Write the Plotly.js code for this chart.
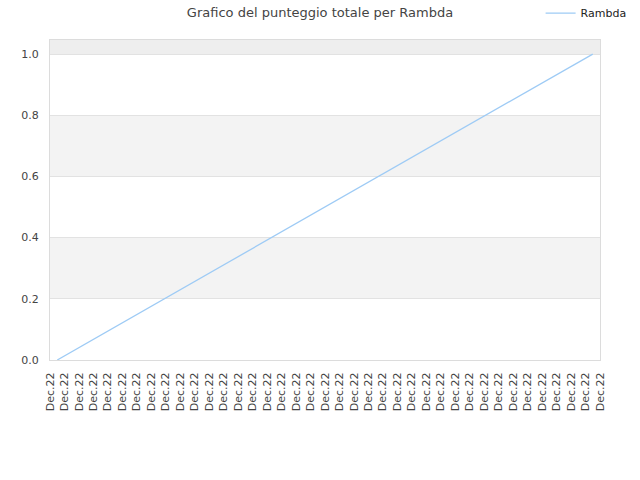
<!DOCTYPE html>
<html>
<head>
<meta charset="utf-8">
<script src="https://cdn.plot.ly/plotly-3.0.1.min.js"></script>
<style>
  html, body { margin: 0; padding: 0; background: #fff; }
  #chart { width: 640px; height: 480px; }
</style>
</head>
<body>
<div id="chart"></div>
<script>
// tick labels along the bottom, one per position
const tickLabels = Array(39).fill("Dec.22");
const tickPositions = tickLabels.map((_, i) => i);

// series: starts at 0, ends at 1
const seriesName = "Rambda";
const seriesX = [0.5, 37.5];
const seriesY = [0, 1];

const yTicks = [0, 0.2, 0.4, 0.6, 0.8, 1.0];

// alternating background bands between the y grid lines
const bands = [
  { from: 0.2, to: 0.4, color: "#f3f3f3" },
  { from: 0.6, to: 0.8, color: "#f3f3f3" },
  { from: 1.0, to: 1.046, color: "#eeeeee" },
];

const font = "DejaVu Sans, sans-serif";

const data = [
  {
    type: "scatter",
    mode: "lines",
    name: seriesName,
    x: seriesX,
    y: seriesY,
    line: { color: "#9ecbf5", width: 1.3 },
    showlegend: true,
  },
];

const layout = {
  width: 640,
  height: 480,
  margin: { l: 50, r: 40, t: 40, b: 120, autoexpand: false },
  paper_bgcolor: "#ffffff",
  plot_bgcolor: "#ffffff",
  font: { family: font, size: 11, color: "#444" },
  title: {
    text: "Grafico del punteggio totale per Rambda",
    font: { family: font, size: 13, color: "#444" },
    x: 0.5,
    xanchor: "center",
    y: 0.975,
    yanchor: "middle",
  },
  showlegend: true,
  legend: {
    x: 0.892,
    xanchor: "left",
    y: 1.084,
    yanchor: "middle",
    bgcolor: "rgba(0,0,0,0)",
    font: { family: font, size: 11, color: "#222" },
    itemwidth: 30,
  },
  xaxis: {
    type: "linear",
    range: [0, 38],
    tickvals: tickPositions,
    ticktext: tickLabels,
    tickangle: -90,
    ticks: "outside",
    ticklen: 7,
    tickcolor: "rgba(0,0,0,0)",
    showgrid: false,
    zeroline: false,
    showline: true,
    mirror: true,
    linecolor: "#dcdcdc",
    linewidth: 1,
    tickfont: { family: font, size: 11, color: "#444" },
    fixedrange: true,
  },
  yaxis: {
    range: [0, 1.046],
    tickvals: yTicks,
    tickformat: ".1f",
    ticks: "outside",
    ticklen: 8,
    tickcolor: "rgba(0,0,0,0)",
    showgrid: true,
    gridcolor: "#e2e2e2",
    zeroline: false,
    showline: true,
    mirror: true,
    linecolor: "#dcdcdc",
    linewidth: 1,
    tickfont: { family: font, size: 11, color: "#444" },
    fixedrange: true,
  },
  shapes: bands.map((b) => ({
    type: "rect",
    xref: "paper",
    yref: "y",
    x0: 0,
    x1: 1,
    y0: b.from,
    y1: b.to,
    fillcolor: b.color,
    line: { width: 0 },
    layer: "below",
  })),
};

Plotly.newPlot("chart", data, layout, { displayModeBar: false, staticPlot: true });
</script>
</body>
</html>
